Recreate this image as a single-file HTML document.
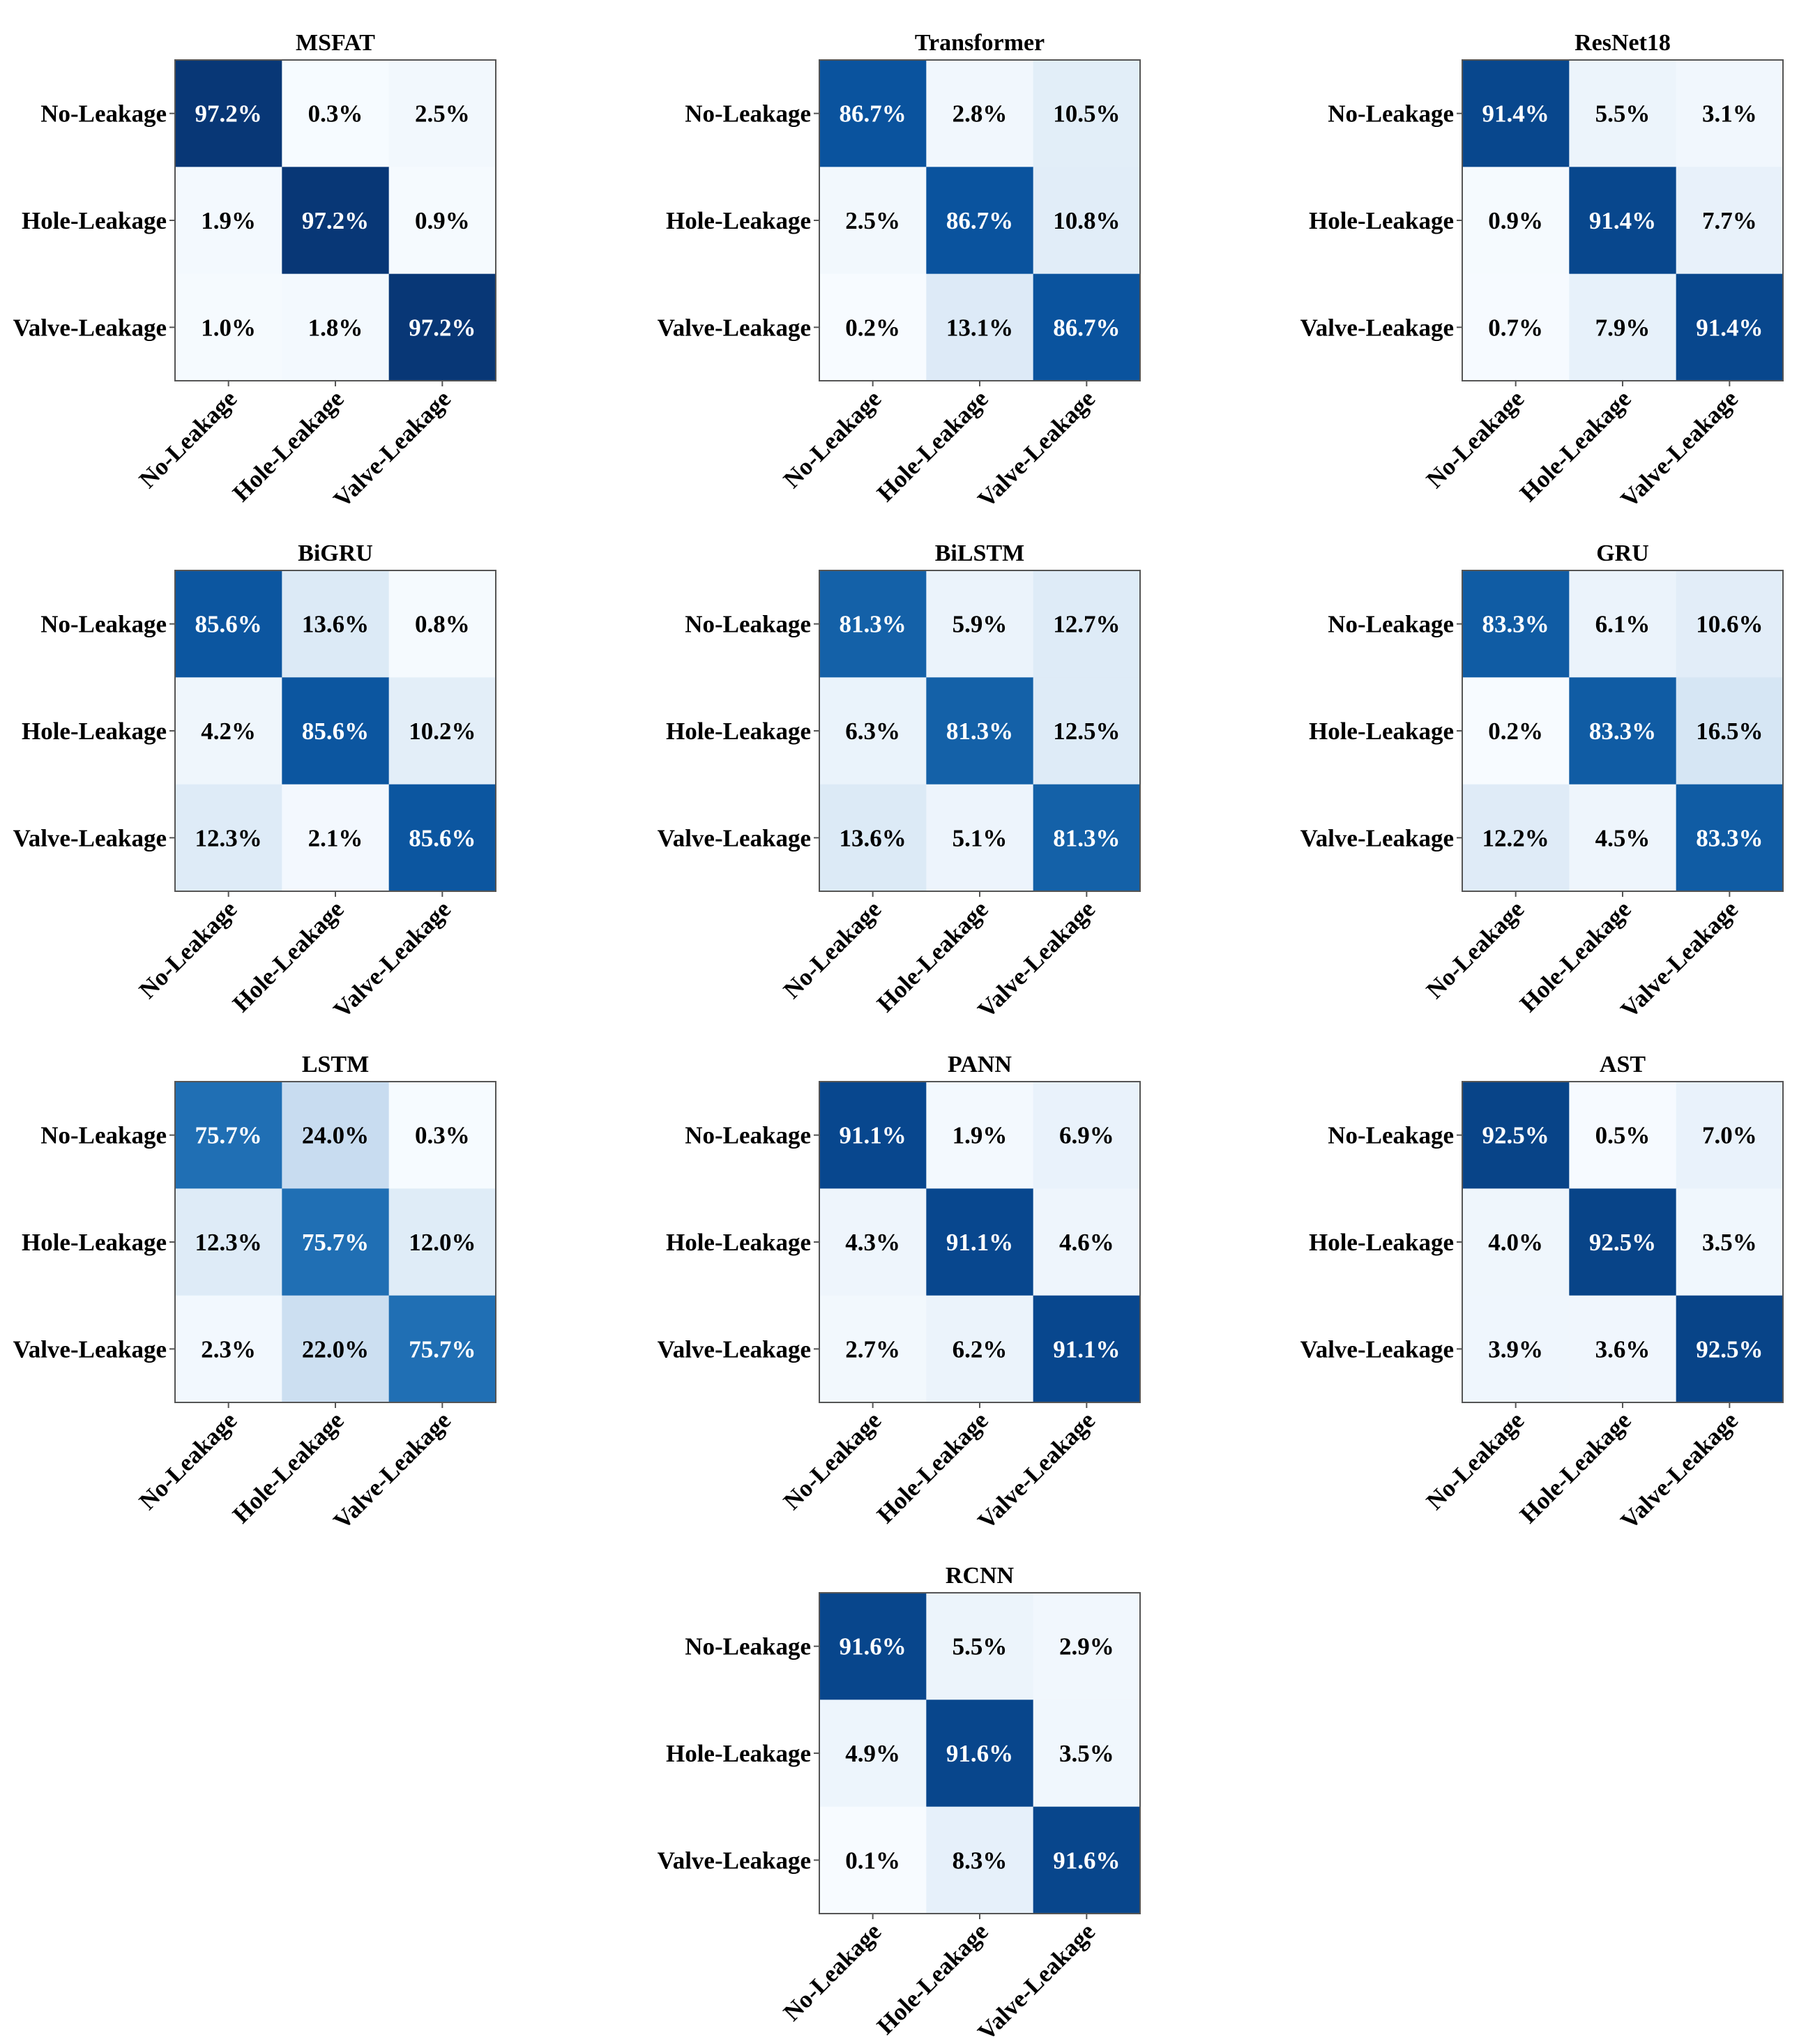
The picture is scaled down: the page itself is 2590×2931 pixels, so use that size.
<!DOCTYPE html>
<html><head><meta charset="utf-8"><style>
html,body{margin:0;padding:0;background:#fff;}
svg{display:block;font-family:"Liberation Serif","Times New Roman",serif;font-weight:bold;}
</style></head><body>
<svg id="chart" width="2590" height="2931" viewBox="0 0 2590 2931" xmlns="http://www.w3.org/2000/svg"></svg>
<script>
const titles = ["MSFAT","Transformer","ResNet18","BiGRU","BiLSTM","GRU","LSTM","PANN","AST","RCNN"];
const classLabels = ["No-Leakage","Hole-Leakage","Valve-Leakage"];
const mMSFAT = [[97.2,0.3,2.5],[1.9,97.2,0.9],[1.0,1.8,97.2]];
const mTransformer = [[86.7,2.8,10.5],[2.5,86.7,10.8],[0.2,13.1,86.7]];
const mResNet18 = [[91.4,5.5,3.1],[0.9,91.4,7.7],[0.7,7.9,91.4]];
const mBiGRU = [[85.6,13.6,0.8],[4.2,85.6,10.2],[12.3,2.1,85.6]];
const mBiLSTM = [[81.3,5.9,12.7],[6.3,81.3,12.5],[13.6,5.1,81.3]];
const mGRU = [[83.3,6.1,10.6],[0.2,83.3,16.5],[12.2,4.5,83.3]];
const mLSTM = [[75.7,24.0,0.3],[12.3,75.7,12.0],[2.3,22.0,75.7]];
const mPANN = [[91.1,1.9,6.9],[4.3,91.1,4.6],[2.7,6.2,91.1]];
const mAST = [[92.5,0.5,7.0],[4.0,92.5,3.5],[3.9,3.6,92.5]];
const mRCNN = [[91.6,5.5,2.9],[4.9,91.6,3.5],[0.1,8.3,91.6]];
const matrices = [mMSFAT,mTransformer,mResNet18,mBiGRU,mBiLSTM,mGRU,mLSTM,mPANN,mAST,mRCNN];

const NS="http://www.w3.org/2000/svg";
const svg=document.getElementById('chart');
const blues=["#f7fbff","#deebf7","#c6dbef","#9ecae1","#6baed6","#4292c6","#2171b5","#08519c","#08306b"];
function hex(h){return [1,3,5].map(i=>parseInt(h.substr(i,2),16));}
function color(v){
  let t=Math.max(0,Math.min(1,v/100))*8; let i=Math.min(7,Math.floor(t)); let f=t-i;
  const a=hex(blues[i]),b=hex(blues[i+1]);
  return "rgb("+a.map((c,k)=>Math.round(c+(b[k]-c)*f)).join(",")+")";
}
function el(tag,attrs,parent){const e=document.createElementNS(NS,tag);for(const k in attrs)e.setAttribute(k,attrs[k]);parent.appendChild(e);return e;}
const colX=[251,1175,2097];
const rowY=[86,818,1551,2284];
const size=460, cell=size/3;
titles.forEach((title,p)=>{
  const x0 = p===9?colX[1]:colX[p%3];
  const y0 = p===9?rowY[3]:rowY[Math.floor(p/3)];
  const g=el('g',{},svg);
  
  
  const t=el('text',{x:x0+size/2,y:y0-14,'text-anchor':'middle','font-size':34,fill:'#000'},g);
  t.textContent=title;
  
  
  const m=matrices[p];
  m.forEach((row,r)=>row.forEach((v,c)=>{
    const rc=el('rect',{x:x0+c*cell,y:y0+r*cell,width:cell+0.5,height:cell+0.5,fill:color(v)},g);
    
    
    const tx=el('text',{x:x0+c*cell+cell/2,y:y0+r*cell+cell/2+12,'text-anchor':'middle','font-size':35,fill:v>50?'#fff':'#000'},g);
    tx.textContent=v.toFixed(1)+'%';
    
    
  }));
  const fr=el('rect',{x:x0,y:y0,width:size,height:size,fill:'none',stroke:'#555','stroke-width':2},g);
  
  
  classLabels.forEach((lab,i)=>{
    const cy=y0+i*cell+cell/2;
    el('line',{x1:x0-8,y1:cy,x2:x0,y2:cy,stroke:'#555','stroke-width':2},g);
    const yl=el('text',{x:x0-12,y:cy+12,'text-anchor':'end','font-size':35,fill:'#000'},g);
    yl.textContent=lab;
    
    
    const cx=x0+i*cell+cell/2;
    el('line',{x1:cx,y1:y0+size,x2:cx,y2:y0+size+8,stroke:'#555','stroke-width':2},g);
    const xl=el('text',{x:cx+14,y:y0+size+28,'text-anchor':'end','font-size':35,fill:'#000',transform:'rotate(-45 '+(cx+14)+' '+(y0+size+28)+')'},g);
    xl.textContent=lab;
    
    
  });
});
</script>
</body></html>
